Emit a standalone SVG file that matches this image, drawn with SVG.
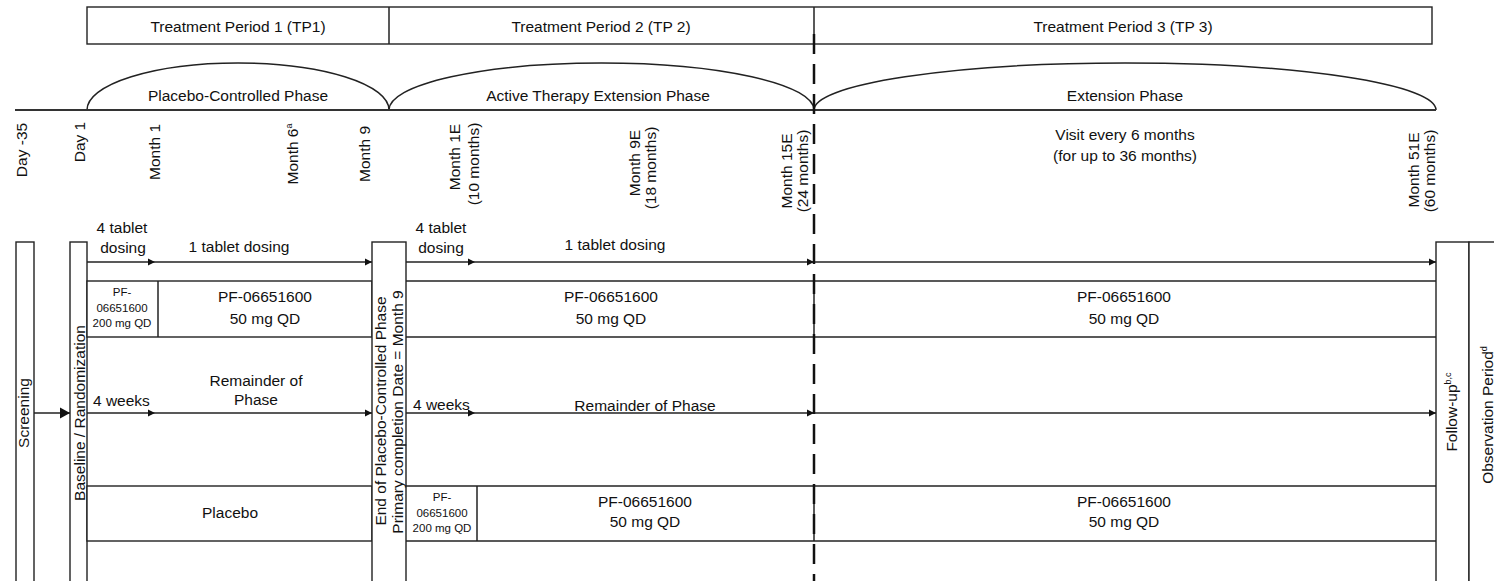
<svg xmlns="http://www.w3.org/2000/svg" width="1494" height="581" viewBox="0 0 1494 581">
<defs>
<style>
text{font-family:"Liberation Sans",Arial,sans-serif;font-size:15.5px;fill:#111}
.c{text-anchor:middle}
.s{font-size:11.5px}
.ln{stroke:#222;stroke-width:1.5;fill:none}
.bx{stroke:#222;stroke-width:1.4;fill:#fff}
.ar{stroke:#222;stroke-width:1.5;fill:none;marker-end:url(#ah)}
</style>
<marker id="ah" markerUnits="userSpaceOnUse" markerWidth="9" markerHeight="9" refX="7" refY="4" orient="auto"><path d="M0,0.5 L7,4 L0,7.5 z" fill="#111"/></marker>
<marker id="ahb" markerUnits="userSpaceOnUse" markerWidth="12" markerHeight="12" refX="10" refY="6" orient="auto"><path d="M0,0.5 L10,6 L0,11.5 z" fill="#111"/></marker>
</defs>
<rect width="1494" height="581" fill="#fff"/>

<g id="header">
<rect class="bx" x="87" y="7" width="1345" height="37"/>
<line class="ln" x1="389" y1="7" x2="389" y2="44"/>
<line class="ln" x1="814" y1="7" x2="814" y2="44"/>
<text class="c" x="238" y="32">Treatment Period 1 (TP1)</text>
<text class="c" x="601" y="32">Treatment Period 2 (TP 2)</text>
<text class="c" x="1123" y="32">Treatment Period 3 (TP 3)</text>
</g>

<g id="phases">
<path class="ln" d="M87,110 A151,47 0 0 1 389,110"/>
<path class="ln" d="M389,110 A212.5,47 0 0 1 814,110"/>
<path class="ln" d="M814,110 A311,47 0 0 1 1436,110"/>
<line x1="15" y1="110" x2="1436" y2="110" stroke="#333" stroke-width="2"/>
<text class="c" x="238" y="101">Placebo-Controlled Phase</text>
<text class="c" x="598" y="101">Active Therapy Extension Phase</text>
<text class="c" x="1125" y="101">Extension Phase</text>
</g>

<g id="timeline">
<text class="c" transform="translate(26.5,150) rotate(-90)">Day -35</text>
<text class="c" transform="translate(85,142) rotate(-90)">Day 1</text>
<text class="c" transform="translate(159.5,152) rotate(-90)">Month 1</text>
<text class="c" transform="translate(297.5,154) rotate(-90)">Month 6<tspan font-size="9" dy="-6">a</tspan></text>
<text class="c" transform="translate(369.5,154) rotate(-90)">Month 9</text>
<text class="c" transform="translate(459.5,157) rotate(-90)">Month 1E</text>
<text class="c" transform="translate(479,164) rotate(-90)">(10 months)</text>
<text class="c" transform="translate(639.5,163) rotate(-90)">Month 9E</text>
<text class="c" transform="translate(655.5,168) rotate(-90)">(18 months)</text>
<text class="c" transform="translate(791.5,171) rotate(-90)">Month 15E</text>
<text class="c" transform="translate(807.5,171) rotate(-90)">(24 months)</text>
<text class="c" transform="translate(1419,170) rotate(-90)">Month 51E</text>
<text class="c" transform="translate(1435,171) rotate(-90)">(60 months)</text>
<text class="c" x="1125" y="140">Visit every 6 months</text>
<text class="c" x="1125" y="161">(for up to 36 months)</text>
</g>

<g id="screening">
<rect class="bx" x="16" y="242" width="18" height="345"/>
<text class="c" transform="translate(29,413) rotate(-90)">Screening</text>
</g>

<g id="baseline">
<rect class="bx" x="70" y="242" width="17" height="345"/>
<text class="c" transform="translate(84.5,413) rotate(-90)">Baseline / Randomization</text>
</g>

<g id="tp1-rows">
<rect class="bx" x="87" y="281" width="285" height="56"/>
<line class="ln" x1="158" y1="281" x2="158" y2="337"/>
<rect class="bx" x="87" y="486" width="285" height="55"/>
<text class="c" x="122" y="233">4 tablet</text>
<text class="c" x="123" y="253">dosing</text>
<text class="c" x="239" y="252">1 tablet dosing</text>
<text class="c s" x="122" y="296">PF-</text>
<text class="c s" x="122" y="312">06651600</text>
<text class="c s" x="122" y="327">200 mg QD</text>
<text class="c" x="265" y="302">PF-06651600</text>
<text class="c" x="265" y="324">50 mg QD</text>
<text x="93" y="406">4 weeks</text>
<text class="c" x="256" y="386">Remainder of</text>
<text class="c" x="256" y="405">Phase</text>
<text class="c" x="230" y="518">Placebo</text>
</g>

<g id="end-placebo">
<rect class="bx" x="372" y="242" width="34" height="345"/>
<text class="c" transform="translate(385.5,411) rotate(-90)">End of Placebo-Controlled Phase</text>
<text class="c" transform="translate(403,412) rotate(-90)">Primary completion Date = Month 9</text>
</g>

<g id="tp2-tp3-rows">
<line class="ln" x1="406" y1="281" x2="1436" y2="281"/>
<line class="ln" x1="406" y1="337" x2="1436" y2="337"/>
<line class="ln" x1="406" y1="486" x2="1436" y2="486"/>
<line class="ln" x1="406" y1="541" x2="1436" y2="541"/>
<line class="ln" x1="477" y1="486" x2="477" y2="541"/>
<line class="ln" x1="814" y1="281" x2="814" y2="337"/>
<line class="ln" x1="814" y1="486" x2="814" y2="541"/>
<text class="c" x="441" y="233">4 tablet</text>
<text class="c" x="441" y="253">dosing</text>
<text class="c" x="615" y="250">1 tablet dosing</text>
<text class="c" x="611" y="302">PF-06651600</text>
<text class="c" x="611" y="324">50 mg QD</text>
<text x="413" y="410">4 weeks</text>
<text class="c" x="645" y="411">Remainder of Phase</text>
<text class="c s" x="442" y="501">PF-</text>
<text class="c s" x="442" y="517">06651600</text>
<text class="c s" x="442" y="532">200 mg QD</text>
<text class="c" x="645" y="507">PF-06651600</text>
<text class="c" x="645" y="527">50 mg QD</text>
<text class="c" x="1124" y="302">PF-06651600</text>
<text class="c" x="1124" y="324">50 mg QD</text>
<text class="c" x="1124" y="507">PF-06651600</text>
<text class="c" x="1124" y="527">50 mg QD</text>
</g>

<g id="followup">
<rect class="bx" x="1436" y="242" width="33" height="345"/>
<rect class="bx" x="1469" y="242" width="40" height="345"/>
<text class="c" transform="translate(1457,412) rotate(-90)">Follow-up<tspan font-size="9" dy="-6">b,c</tspan></text>
<text class="c" transform="translate(1492.5,415) rotate(-90)">Observation Period<tspan font-size="9" dy="-6">d</tspan></text>
</g>

<g id="connectors">
<line class="ar" x1="34" y1="413" x2="70" y2="413" style="marker-end:url(#ahb)"/>
<line class="ar" x1="87" y1="262" x2="155" y2="262"/>
<line class="ar" x1="155" y1="262" x2="372" y2="262"/>
<line class="ar" x1="87" y1="413" x2="155" y2="413"/>
<line class="ar" x1="155" y1="413" x2="372" y2="413"/>
<line class="ar" x1="406" y1="262" x2="475" y2="262"/>
<line class="ar" x1="475" y1="262" x2="814" y2="262"/>
<line class="ar" x1="814" y1="262" x2="1436" y2="262"/>
<line class="ar" x1="406" y1="413" x2="475" y2="413"/>
<line class="ar" x1="475" y1="413" x2="814" y2="413"/>
<line class="ar" x1="814" y1="413" x2="1436" y2="413"/>
<line x1="814" y1="34" x2="814" y2="581" stroke="#111" stroke-width="2.5" stroke-dasharray="20 10"/>
</g>
</svg>
